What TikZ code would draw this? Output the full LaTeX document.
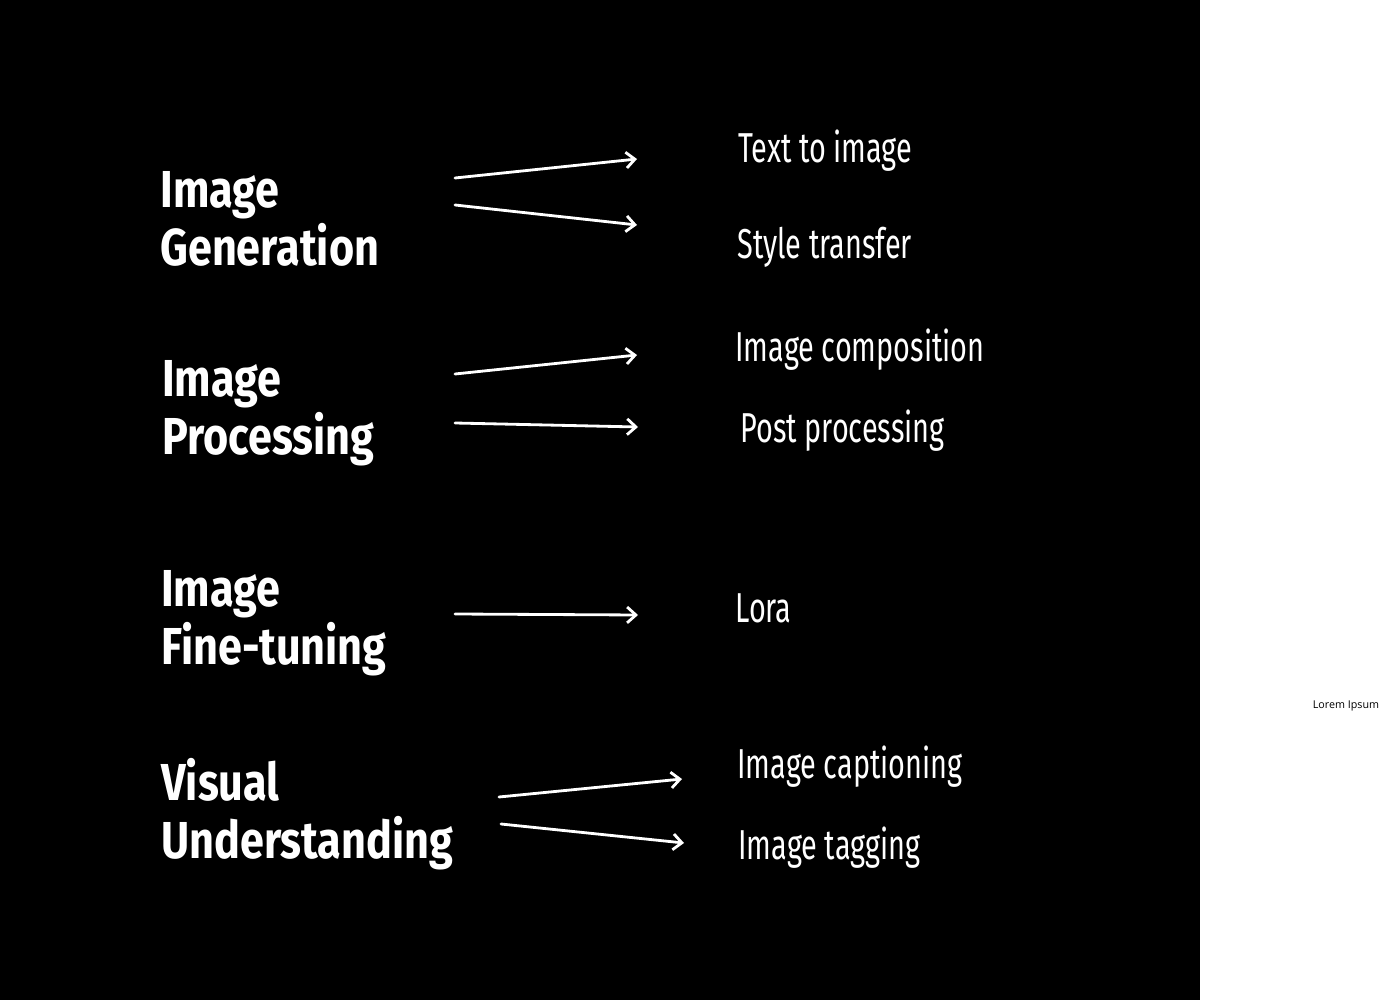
\documentclass[tikz,border=0pt]{standalone}
\usepackage{fontspec}
\usetikzlibrary{arrows.meta, positioning}
\newfontfamily\headfont{Fira Sans}[FakeStretch=0.83]
\newfontfamily\itemfont{Fira Sans}[FakeStretch=0.69]
\newfontfamily\notefont{Open Sans}
\definecolor{slideblack}{RGB}{0, 0, 0}
\definecolor{slidewhite}{RGB}{255, 255, 255}
\tikzset{
  headline/.style={anchor=north west, align=left, inner sep=0pt, text=slidewhite, font=\headfont\bfseries\fontsize{29.6}{33}\selectfont},
  item/.style={anchor=base west, inner sep=0pt, text=slidewhite, font=\itemfont\fontsize{23.8}{28}\selectfont},
  note/.style={inner sep=0pt, text=slideblack, font=\notefont\fontsize{6.1}{8}\selectfont},
  arr/.style={-{Straight Barb[length=5pt, width=9pt]}, line width=1.6pt, line cap=round, slidewhite}
}

\begin{document}
\begin{tikzpicture}[x=0.02cm, y=-0.02cm]
  \fill[slidewhite] (0,0) rectangle (1380,1000);
  \fill[slideblack] (0,0) rectangle (1200,1000);
  \useasboundingbox (0,0) rectangle (1380,1000);

  % left column
  \node[headline] (gen) at (160,171) {Image\\Generation};
  \node[headline] (proc) at (162,360) {Image\\Processing};
  \node[headline] (tune) at (161,570) {Image\\Fine-tuning};
  \node[headline] (vis) at (161,758) {Visual\\Understanding};

  % right column
  \node[item] (txt) at (738,163) {Text to image};
  \node[item] (sty) at (737,259) {Style transfer};
  \node[item] (comp) at (735,361) {Image composition};
  \node[item] (post) at (740,442) {Post processing};
  \node[item] (lora) at (735,622) {Lora};
  \node[item] (capt) at (737,778) {Image captioning};
  \node[item] (tag) at (738,859) {Image tagging};

  \node[note] (lorem) at (1346,706) {Lorem Ipsum};

  % arrow ends
  \coordinate (gen-a) at (455,178);  \coordinate (txt-in) at (637,159);
  \coordinate (gen-b) at (455,205);  \coordinate (sty-in) at (637,225);
  \coordinate (proc-a) at (455,374); \coordinate (comp-in) at (637,355);
  \coordinate (proc-b) at (455,423); \coordinate (post-in) at (638,427);
  \coordinate (tune-a) at (455,614); \coordinate (lora-in) at (638,615);
  \coordinate (vis-a) at (499,797);  \coordinate (capt-in) at (682,779);
  \coordinate (vis-b) at (501,824);  \coordinate (tag-in) at (684,843);

  \draw[arr] (gen-a) -- (txt-in);
  \draw[arr] (gen-b) -- (sty-in);
  \draw[arr] (proc-a) -- (comp-in);
  \draw[arr] (proc-b) -- (post-in);
  \draw[arr] (tune-a) -- (lora-in);
  \draw[arr] (vis-a) -- (capt-in);
  \draw[arr] (vis-b) -- (tag-in);
\end{tikzpicture}
\end{document}
